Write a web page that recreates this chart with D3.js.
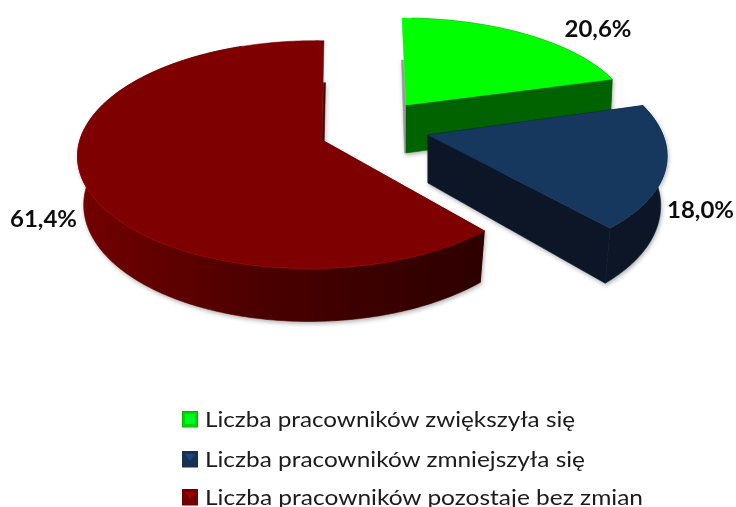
<!DOCTYPE html>
<html><head><meta charset="utf-8">
<script src="https://cdnjs.cloudflare.com/ajax/libs/d3/7.8.5/d3.min.js"></script>
<style>html,body{margin:0;padding:0;background:#fff}svg{display:block}</style>
</head><body><svg id="c" width="736" height="507"></svg>
<script>
const categories = ["Liczba pracowników zwiększyła się","Liczba pracowników zmniejszyła się","Liczba pracowników pozostaje bez zmian"];
const values = [20.6,18.0,61.4];
const valueLabels = ["20,6%","18,0%","61,4%"];
const topColors = ["#00ff00","#17375e","#7f0000"];
const wallColors = ["#006400","#091828","#3a0000"];
const sliceViews = [
 {cx:406,cy:105,bx:223,a:98,m:0,h:.046,lx:598,ly:37,dxk:.01,grow:.00157},
 {cx:428,cy:135,bx:235,a:111.6,m:0,h:.122,lx:700.5,ly:218,dxk:.027,grow:.00157},
 {cx:322,cy:140,bx:232.4,a:112,m:.0398,h:-.02,lx:43.5,ly:227,dxk:.025,grow:.0008}
];
const legendRows = [427,467,505];
const legendWidths = [370,380,438];
const k = .1278, depth = 48;

const svg = d3.select("#c");
const defs = svg.append("defs");
const sh = defs.append("filter").attr("id","sh").attr("x","-10%").attr("y","-10%").attr("width","120%").attr("height","125%");
sh.append("feDropShadow").attr("dx",1).attr("dy",2).attr("stdDeviation",2).attr("flood-color","#000").attr("flood-opacity",.3);
const soft = defs.append("filter").attr("id","soft").attr("x","-5%").attr("y","-5%").attr("width","110%").attr("height","110%");
soft.append("feGaussianBlur").attr("stdDeviation",.45);
const g = defs.append("linearGradient").attr("id","redSide").attr("gradientUnits","userSpaceOnUse").attr("x1",80).attr("x2",485).attr("y1",0).attr("y2",0);
g.append("stop").attr("offset",0).attr("stop-color","#720000");
g.append("stop").attr("offset",.5).attr("stop-color","#470000");
g.append("stop").attr("offset",1).attr("stop-color","#2c0000");

const arcs = d3.pie().sort(null).value(d=>d).startAngle(0).endAngle(2*Math.PI)(values);
const line = d3.line();

function proj(v,t){
  const X=Math.sin(t),Y=-Math.cos(t),D=1-k*Y+v.m*X;
  const yy=v.a*Y/D, xx=v.bx*X/D+v.h*yy;
  return [v.cx+xx,v.cy+yy];
}
function low(v,p){
  const dx=p[0]-v.cx, dy=p[1]-v.cy;
  return [p[0]-v.dxk*dx, p[1]+depth*(1+v.grow*dy)];
}
const root = svg.append("g").attr("filter","url(#soft)");
arcs.forEach((d,i)=>{
  const v=sliceViews[i];
  const n=Math.max(8,Math.round((d.endAngle-d.startAngle)*60));
  const rim=d3.range(n+1).map(j=>proj(v,d.startAngle+(d.endAngle-d.startAngle)*j/n));
  const apex=[v.cx,v.cy];
  const gi=root.append("g");
  const sides=gi.append("g").attr("filter","url(#sh)");
  const wallFill=i===2?"url(#redSide)":wallColors[i];
  const wall=(pts,fill)=>sides.append("path").attr("d",line(pts)+"Z").attr("fill",fill).attr("stroke",fill).attr("stroke-width",.6);
  let outer=rim;
  if(i===0){
    const p=rim[0],b=low(v,apex);
    wall([[apex[0]-.5,apex[1]],[p[0]+1.5,p[1]+42],[p[0]-.5,p[1]+42],[b[0]-1.5,b[1]],b],"#9a9a9a");
    wall([apex,rim[n],low(v,rim[n]),b],wallFill);
    outer=rim.filter(q=>q[0]>=v.cx+4);
  } else if(i===1){
    [rim[0],rim[n]].forEach(p=>wall([apex,p,low(v,p),low(v,apex)],wallFill));
  } else {
    const p=rim[n];
    wall([apex,rim[0],low(v,rim[0]),low(v,apex)],wallFill);
    wall([apex,[p[0]-.5,p[1]+42],[p[0]+1.5,p[1]+42],[apex[0]+2,apex[1]+10]],"#3a0000");
    outer=rim.slice(0,Math.round(n*.9));
  }
  wall(outer.concat(outer.map(q=>low(v,q)).reverse()),wallFill);
  gi.append("path").attr("d",line([apex].concat(rim))+"Z").attr("fill",topColors[i]).attr("stroke",topColors[i]).attr("stroke-width",.5);
  if(i===2){
    const front=rim.filter((p,j)=>j<n*.62);
    gi.append("path").attr("d",line(front)).attr("fill","none").attr("stroke","#980000").attr("stroke-width",.7);
  }
  svg.append("text").attr("x",v.lx).attr("y",v.ly).attr("text-anchor","middle")
    .attr("font-family","Lato, sans-serif").attr("font-size",23).attr("font-weight",700).attr("fill","#111")
    .attr("textLength",67).attr("lengthAdjust","spacingAndGlyphs")
    .attr("filter","url(#soft)").text(valueLabels[i]);
});
const legend=svg.append("g").attr("filter","url(#soft)");
categories.forEach((c,i)=>{
  const y=legendRows[i];
  const base=d3.color(topColors[i]);
  legend.append("rect").attr("x",182.5).attr("y",y-15.5).attr("width",15).attr("height",15.5)
    .attr("fill",i===0?"#00d800":base.darker(.3)).attr("stroke",i===0?"#00b400":base.darker(.5)).attr("stroke-width",1);
  legend.append("path").attr("d",i===0?`M185,${y-13}H195V${y-3}H185Z`:`M185,${y-13}H195L190,${y-6}Z`)
    .attr("fill",i===0?"#00ff30":base.brighter(.9)).attr("opacity",.8);
  legend.append("text").attr("x",205).attr("y",y).attr("font-family","Lato, sans-serif").attr("font-size",21).attr("font-weight",400).attr("fill","#1a1a1a")
    .attr("textLength",legendWidths[i]).attr("lengthAdjust","spacingAndGlyphs").text(c);
});
</script></body></html>
